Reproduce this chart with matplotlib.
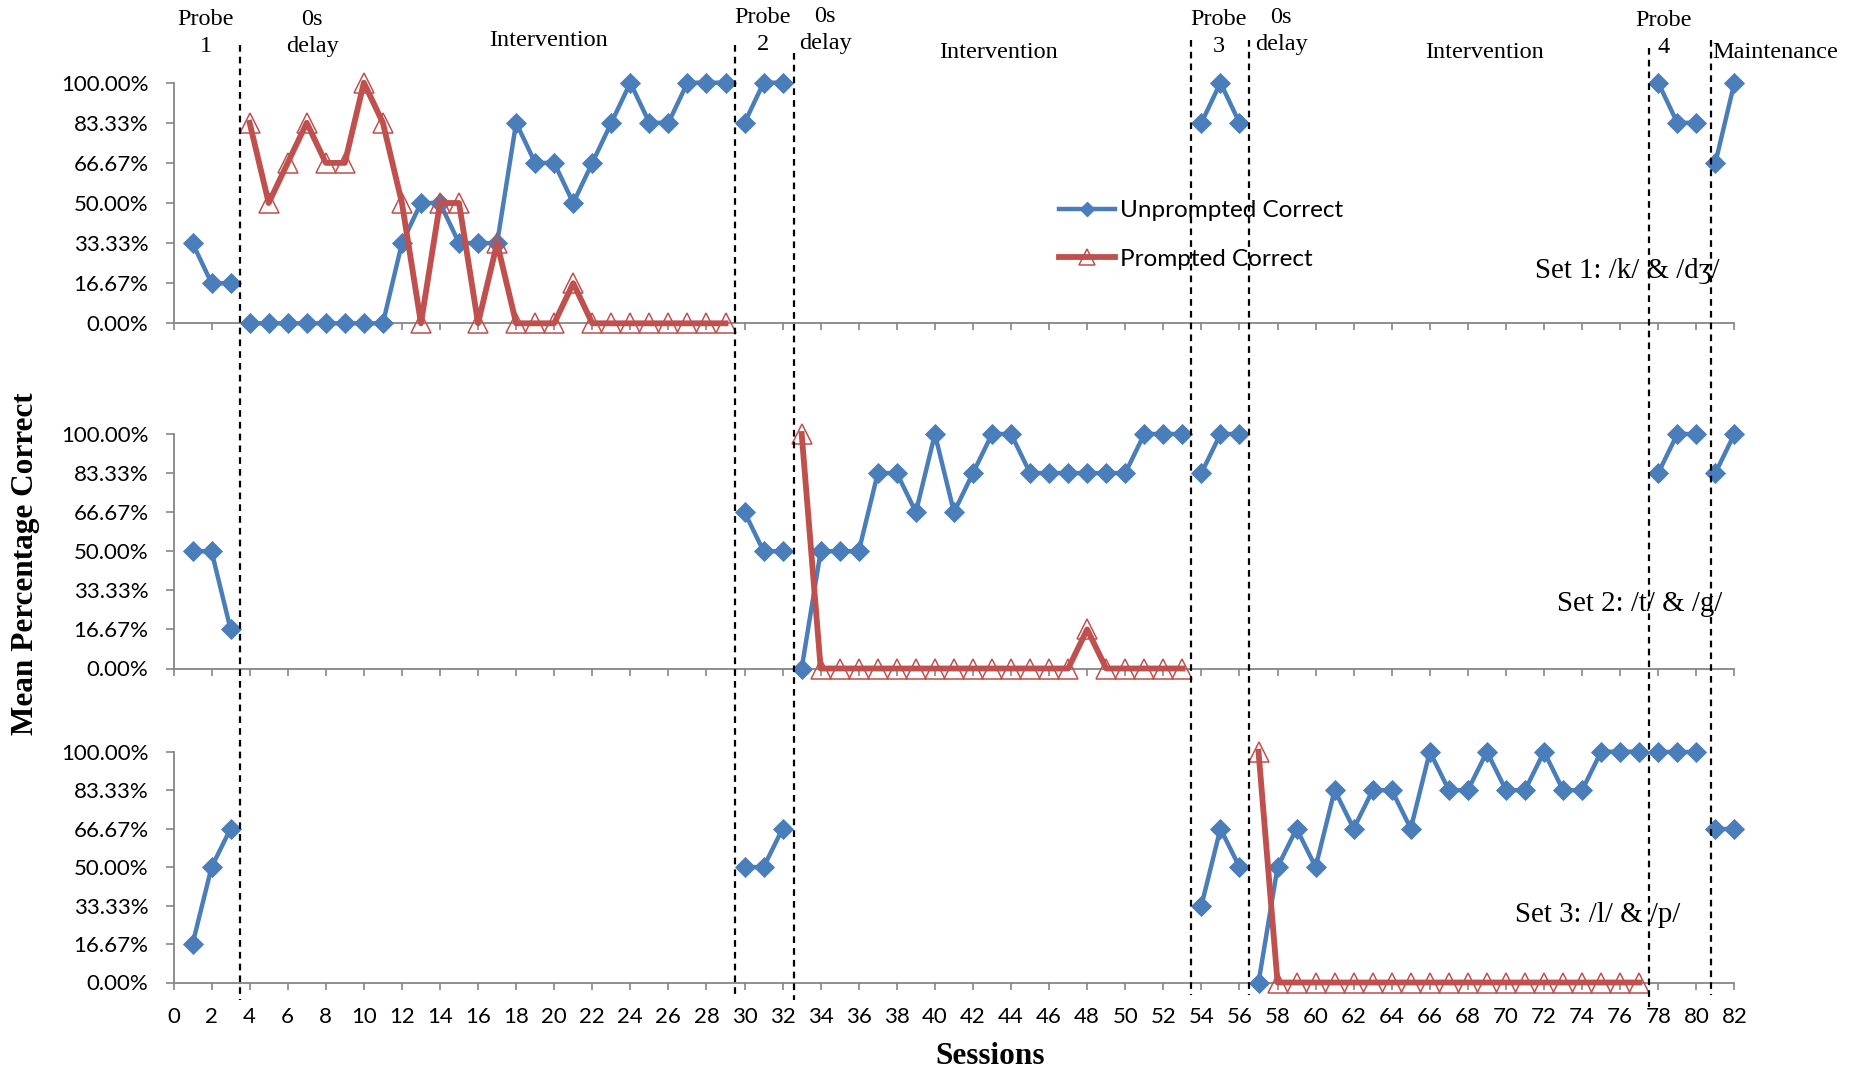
import numpy as np
import matplotlib
matplotlib.use("Agg")
import matplotlib.pyplot as plt
from matplotlib.lines import Line2D
from matplotlib.transforms import blended_transform_factory

# ---------------- data ----------------
N = None
sessions = list(range(1, 83))

y_ticks = [0, 16.67, 33.33, 50, 66.67, 83.33, 100]
y_tick_labels = ["0.00%", "16.67%", "33.33%", "50.00%", "66.67%", "83.33%", "100.00%"]
x_ticks = list(range(0, 83, 2))

phase_bounds = [3.5, 29.5, 32.6, 53.45, 56.5, 77.5, 80.75]
phase_labels = ["Probe\n1", "0s\ndelay", "Intervention",
                "Probe\n2", "0s\ndelay", "Intervention",
                "Probe\n3", "0s\ndelay", "Intervention",
                "Probe\n4", "Maintenance"]
set_labels = ["Set 1: /k/ & /dʒ/", "Set 2: /t/ & /g/", "Set 3: /l/ & /p/"]
series_names = ["Unprompted Correct", "Prompted Correct"]

set1_unprompted = [33.33, 16.67, 16.67, 0, 0, 0, 0, 0, 0, 0, 0, 33.33, 50, 50, 33.33, 33.33, 33.33, 83.33, 66.67, 66.67, 50, 66.67, 83.33, 100, 83.33, 83.33, 100, 100, 100, 83.33, 100, 100,
                   N, N, N, N, N, N, N, N, N, N, N, N, N, N, N, N, N, N, N, N, N,          # 33-53
                   83.33, 100, 83.33,                                                       # 54-56
                   N, N, N, N, N, N, N, N, N, N, N, N, N, N, N, N, N, N, N, N, N,          # 57-77
                   100, 83.33, 83.33, 66.67, 100]                                           # 78-82
set1_prompted = [N, N, N, 83.33, 50, 66.67, 83.33, 66.67, 66.67, 100, 83.33, 50, 0, 50, 50, 0, 33.33, 0, 0, 0, 16.67,
                 0, 0, 0, 0, 0, 0, 0, 0,                                                    # 22-29
                 N, N, N,
                 N, N, N, N, N, N, N, N, N, N, N, N, N, N, N, N, N, N, N, N, N,
                 N, N, N,
                 N, N, N, N, N, N, N, N, N, N, N, N, N, N, N, N, N, N, N, N, N,
                 N, N, N, N, N]

set2_unprompted = [50, 50, 16.67,
                   N, N, N, N, N, N, N, N, N, N, N, N, N, N, N, N, N, N, N, N, N, N, N, N, N, N,   # 4-29
                   66.67, 50, 50,                                                                  # 30-32
                   0, 50, 50, 50, 83.33, 83.33, 66.67, 100, 66.67, 83.33, 100, 100,                # 33-44
                   83.33, 83.33, 83.33, 83.33, 83.33, 83.33, 100, 100, 100,                        # 45-53
                   83.33, 100, 100,                                                                # 54-56
                   N, N, N, N, N, N, N, N, N, N, N, N, N, N, N, N, N, N, N, N, N,                 # 57-77
                   83.33, 100, 100, 83.33, 100]                                                    # 78-82
set2_prompted = [N, N, N,
                 N, N, N, N, N, N, N, N, N, N, N, N, N, N, N, N, N, N, N, N, N, N, N, N, N, N,
                 N, N, N,
                 100, 0, 0, 0, 0, 0, 0, 0, 0, 0, 0, 0, 0, 0, 0, 16.67, 0, 0, 0, 0, 0,             # 33-53
                 N, N, N,
                 N, N, N, N, N, N, N, N, N, N, N, N, N, N, N, N, N, N, N, N, N,
                 N, N, N, N, N]

set3_unprompted = [16.67, 50, 66.67,
                   N, N, N, N, N, N, N, N, N, N, N, N, N, N, N, N, N, N, N, N, N, N, N, N, N, N,   # 4-29
                   50, 50, 66.67,                                                                  # 30-32
                   N, N, N, N, N, N, N, N, N, N, N, N, N, N, N, N, N, N, N, N, N,                 # 33-53
                   33.33, 66.67, 50,                                                               # 54-56
                   0, 50, 66.67, 50, 83.33, 66.67, 83.33, 83.33, 66.67, 100, 83.33,                # 57-67
                   83.33, 100, 83.33, 83.33, 100, 83.33, 83.33, 100, 100, 100,                     # 68-77
                   100, 100, 100, 66.67, 66.67]                                                    # 78-82
set3_prompted = [N, N, N,
                 N, N, N, N, N, N, N, N, N, N, N, N, N, N, N, N, N, N, N, N, N, N, N, N, N, N,
                 N, N, N,
                 N, N, N, N, N, N, N, N, N, N, N, N, N, N, N, N, N, N, N, N, N,
                 N, N, N,
                 100, 0, 0, 0, 0, 0, 0, 0, 0, 0, 0, 0, 0, 0, 0, 0, 0, 0, 0, 0, 0,                 # 57-77
                 N, N, N, N, N]

# ---------------- style ----------------
W, H = 1860, 1073
BLUE = "#4A7EBB"
RED = "#C0504D"
GRAY = "#868686"
SERIF = ["Liberation Serif", "DejaVu Serif"]
SANS = ["Lato", "DejaVu Sans"]
plt.rcParams["font.family"] = SANS

fig = plt.figure(figsize=(W / 100, H / 100), dpi=100)

# axes rectangles in pixels: (top_px, bottom_px)
left_px, right_px = 173.5, 1734.4
panel_px = [(82.7, 323.3), (434.0, 668.5), (751.7, 982.5)]
axes = []
for top, bot in panel_px:
    ax = fig.add_axes([left_px / W, 1 - bot / H, (right_px - left_px) / W, (bot - top) / H])
    axes.append(ax)

edges = [0] + phase_bounds + [83]
x_arr = np.array(sessions, float)


def plot_series(ax, vals, **kw):
    y = np.array([np.nan if v is None else v for v in vals], float)
    for lo, hi in zip(edges[:-1], edges[1:]):
        m = (x_arr > lo) & (x_arr < hi) & ~np.isnan(y)
        if m.any():
            ax.plot(x_arr[m], y[m], clip_on=False, **kw)


blue_kw = dict(color=BLUE, lw=3.2, marker="D", ms=9.8, mfc=BLUE, mec=BLUE, mew=0.6, zorder=3)
red_kw = dict(color=RED, lw=4.2, marker="^", ms=15, mfc="none", mec=RED, mew=1.1, zorder=4)

data = [(set1_unprompted, set1_prompted), (set2_unprompted, set2_prompted), (set3_unprompted, set3_prompted)]
for i, (ax, (unp, pro)) in enumerate(zip(axes, data)):
    plot_series(ax, unp, **blue_kw)
    plot_series(ax, pro, **red_kw)
    ax.set_xlim(0, 82)
    ax.set_ylim(0, 100)
    ax.set_yticks(y_ticks)
    ax.set_yticklabels(y_tick_labels, fontsize=16, family=SANS)
    ax.set_xticks(x_ticks)
    if i == 2:
        ax.set_xticklabels([str(t) for t in x_ticks], fontsize=16, family=SANS)
    else:
        ax.set_xticklabels([])
    for s in ["top", "right"]:
        ax.spines[s].set_visible(False)
    for s in ["left", "bottom"]:
        ax.spines[s].set_color(GRAY)
        ax.spines[s].set_linewidth(1.3)
    ax.tick_params(axis="y", direction="out", length=5.5, width=1.2, color=GRAY, pad=12.5)
    ax.tick_params(axis="x", direction="out", length=5, width=1.2, color=GRAY, pad=12.5)
    ax.set_facecolor("none")

# set labels (left px, center y px)
set_label_pos = [(1535, 271), (1557, 604), (1515, 915)]
for lab, (px, py) in zip(set_labels, set_label_pos):
    fig.text(px / W, 1 - py / H, lab, ha="left", va="center", fontsize=20.8, family=SERIF)

# dashed phase lines spanning the three panels
dash_extent = [(45, 1000), (45, 998), (53, 1000), (40, 995), (40, 995), (48, 1007), (40, 995)]
trans = blended_transform_factory(axes[0].transData, fig.transFigure)
for xb, (t, b) in zip(phase_bounds, dash_extent):
    fig.add_artist(Line2D([xb, xb], [1 - t / H, 1 - b / H], transform=trans, color="black",
                          lw=1.6, linestyle=(0, (3.0, 2.3)), zorder=10))

# phase labels (center x px, center y px)
phase_label_pos = [(206, 33), (312, 33), (549, 40),
                   (763, 31), (825, 30), (999, 52),
                   (1219, 33), (1281, 31), (1485, 53),
                   (1664, 34), (1775, 52)]
for lab, (px, py) in zip(phase_labels, phase_label_pos):
    fig.text(px / W, 1 - py / H, lab, ha="center", va="center", fontsize=17.5,
             family=SERIF, linespacing=1.38)

# legend
handles = [Line2D([], [], color=BLUE, lw=3.2, marker="D", ms=7.5, mfc=BLUE, mec=BLUE),
           Line2D([], [], color=RED, lw=4.2, marker="^", ms=11, mfc="none", mec=RED, mew=1.1)]
fig.legend(handles, series_names, loc="upper left", bbox_to_anchor=(1059 / W, 1 - 200 / H),
           frameon=False, borderpad=0, borderaxespad=0, handlelength=2.3, handletextpad=0.2,
           labelspacing=1.15, prop={"family": SANS, "size": 17.5})

# axis titles
fig.text(26 / W, 1 - 564 / H, "Mean Percentage Correct", rotation=90, ha="center", va="center",
         fontsize=22.5, fontweight="bold", family=SERIF)
fig.text(990 / W, 1 - 1056 / H, "Sessions", ha="center", va="center",
         fontsize=22.5, fontweight="bold", family=SERIF)

fig.savefig("out.png", dpi=100, facecolor="white")
